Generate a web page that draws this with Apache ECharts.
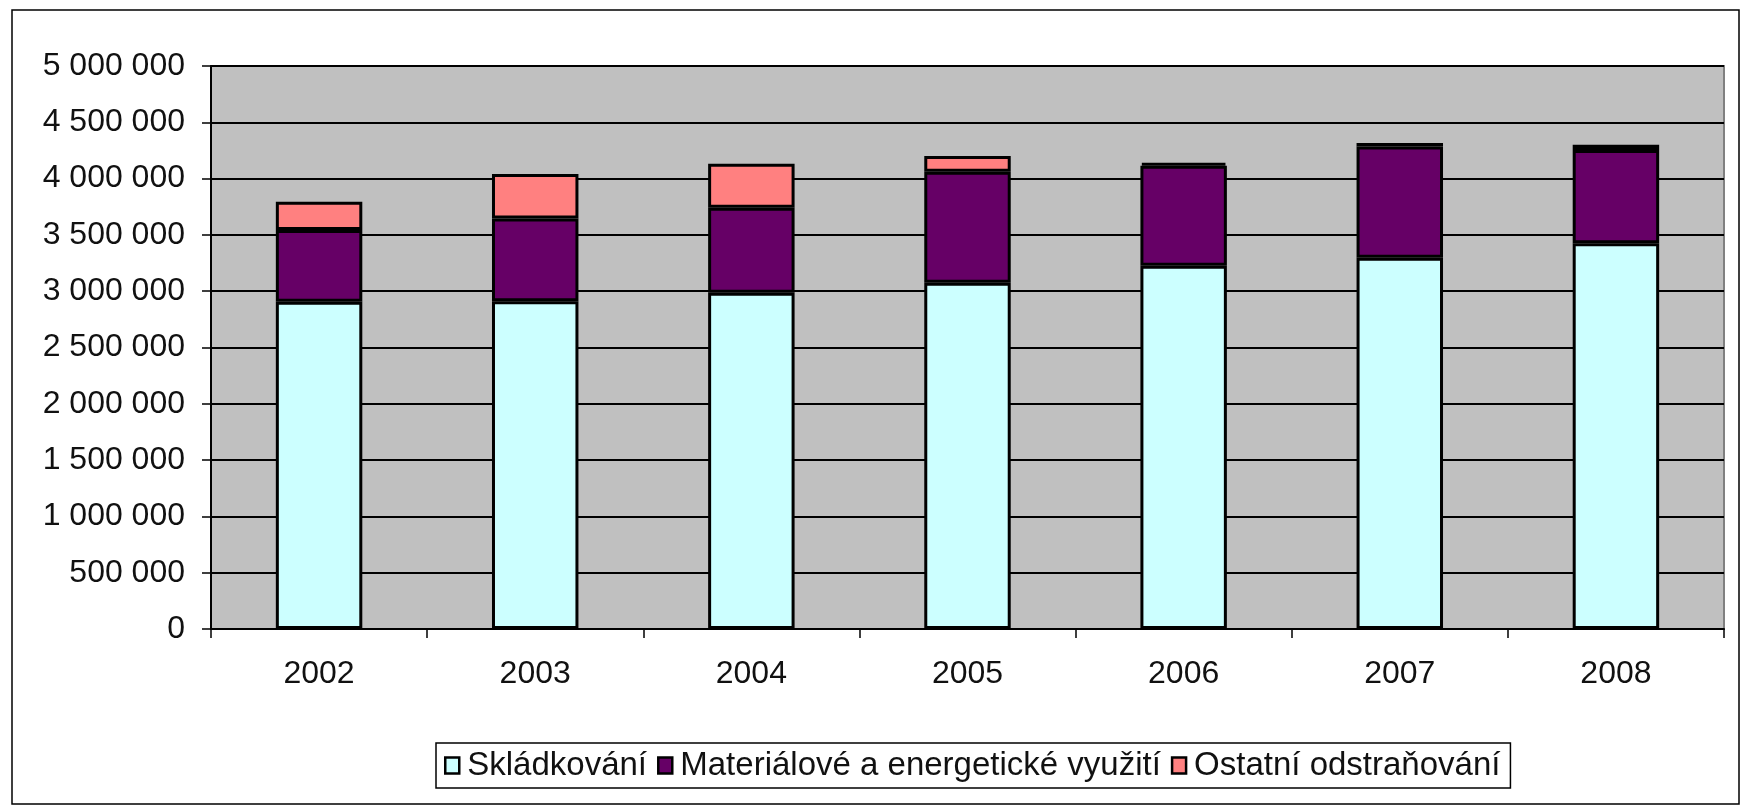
<!DOCTYPE html>
<html>
<head>
<meta charset="utf-8">
<script src="https://cdn.jsdelivr.net/npm/echarts@6/dist/echarts.min.js"></script>
<style>
  html, body { margin: 0; padding: 0; background: #fff; }
  #chart { width: 1747px; height: 810px; }
</style>
</head>
<body>
<div id="chart"></div>
<script>
  // roky
  const years = ['2002', '2003', '2004', '2005', '2006', '2007', '2008'];
  // Skládkování
  const skladkovani = [2907000, 2910000, 2986000, 3075000, 3225000, 3296000, 3425000];
  // Materiálové a energetické využití
  const vyuziti = [637000, 735000, 755000, 985000, 890000, 990000, 830000];
  // Ostatní odstraňování
  const ostatni = [250000, 395000, 390000, 140000, 25000, 30000, 45000];
  // popisky osy y
  const yTicks = [0, 500000, 1000000, 1500000, 2000000, 2500000, 3000000, 3500000, 4000000, 4500000, 5000000];

  const fontFam = 'Liberation Sans, Arial, sans-serif';
  const textColor = '#111';

  function fmt(v) {
    return String(v).replace(/\B(?=(\d{3})+(?!\d))/g, ' ');
  }

  let myChart = echarts.init(document.getElementById('chart'));
  let option = {
    animation: false,
    backgroundColor: '#fff',
    textStyle: { fontFamily: fontFam },
    // ramecek kolem celeho grafu
    graphic: [{
      type: 'rect',
      shape: { x: 12, y: 10, width: 1727, height: 794 },
      style: { fill: 'none', stroke: '#000', lineWidth: 1.5 },
      silent: true
    }],
    grid: {
      left: 211,
      right: 23,
      top: 66,
      bottom: 181,
      show: true,
      backgroundColor: '#C0C0C0',
      borderColor: '#808080',
      borderWidth: 2
    },
    legend: {
      left: 436,
      top: 743,
      padding: [6, 10, 6, 8],
      borderColor: '#000',
      borderWidth: 1.5,
      backgroundColor: '#fff',
      itemGap: 10,
      itemWidth: 14,
      itemHeight: 16,
      icon: 'rect',
      itemStyle: { borderColor: '#000', borderWidth: 2.5 },
      textStyle: { fontSize: 33, color: textColor, fontFamily: fontFam, padding: [0, 0, 0, 3] },
      data: ['Skládkování', 'Materiálové a energetické využití', 'Ostatní odstraňování']
    },
    xAxis: {
      type: 'category',
      data: years,
      axisLine: { lineStyle: { color: '#000', width: 2 } },
      axisTick: { show: true, length: 9, lineStyle: { color: '#000', width: 1.5 } },
      axisLabel: { margin: 29, fontSize: 32, color: textColor, fontFamily: fontFam },
      splitLine: { show: false }
    },
    yAxis: {
      type: 'value',
      min: yTicks[0],
      max: yTicks[yTicks.length - 1],
      interval: yTicks[1] - yTicks[0],
      axisLine: { show: true, lineStyle: { color: '#000', width: 2 } },
      axisTick: { show: true, length: 9, lineStyle: { color: '#000', width: 1.5 } },
      axisLabel: { margin: 26, fontSize: 32, color: textColor, fontFamily: fontFam, formatter: fmt },
      splitLine: { show: true, lineStyle: { color: '#000', width: 2 } }
    },
    series: [
      {
        name: 'Skládkování',
        type: 'bar',
        stack: 'total',
        barWidth: '40%',
        itemStyle: { color: '#CCFFFF', borderColor: '#000', borderWidth: 3 },
        data: skladkovani
      },
      {
        name: 'Materiálové a energetické využití',
        type: 'bar',
        stack: 'total',
        itemStyle: { color: '#660066', borderColor: '#000', borderWidth: 3 },
        data: vyuziti
      },
      {
        name: 'Ostatní odstraňování',
        type: 'bar',
        stack: 'total',
        itemStyle: { color: '#FF8080', borderColor: '#000', borderWidth: 3 },
        data: ostatni
      }
    ]
  };
  myChart.setOption(option);
</script>
</body>
</html>
